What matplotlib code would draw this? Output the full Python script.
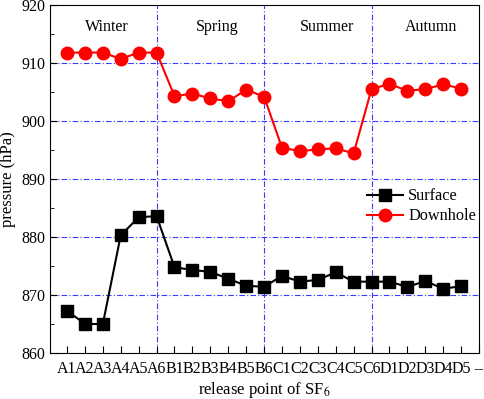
import numpy as np
import matplotlib
matplotlib.use("Agg")
import matplotlib.pyplot as plt
from matplotlib.ticker import MultipleLocator

plt.rcParams['font.family'] = ['Liberation Serif', 'DejaVu Serif']
plt.rcParams['mathtext.fontset'] = 'stix'

# release points (last tick is a placeholder "--")
points = ['A1', 'A2', 'A3', 'A4', 'A5', 'A6',
          'B1', 'B2', 'B3', 'B4', 'B5', 'B6',
          'C1', 'C2', 'C3', 'C4', 'C5', 'C6',
          'D1', 'D2', 'D3', 'D4', 'D5']
tick_labels = points + ['--']

surface = [867.3, 865.0, 865.0, 880.3, 883.4, 883.6,
           874.8, 874.3, 874.0, 872.8, 871.6, 871.4,
           873.3, 872.3, 872.6, 873.9, 872.3, 872.3,
           872.3, 871.4, 872.4, 871.1, 871.5]
downhole = [911.8, 911.8, 911.8, 910.7, 911.8, 911.8,
            904.3, 904.7, 903.9, 903.4, 905.4, 904.2,
            895.4, 894.8, 895.1, 895.3, 894.4, 905.5,
            906.4, 905.2, 905.5, 906.3, 905.6]

seasons = ['Winter', 'Spring', 'Summer', 'Autumn']
season_x = [2.2, 8.4, 14.5, 20.3]
season_bounds = [5, 11, 17]

fig = plt.figure(figsize=(4.84, 3.99), dpi=100)
ax = fig.add_axes([0.1033, 0.1153, 0.8864, 0.8722])

x = np.arange(len(points))
ax.plot(x, surface, '-s', color='black', markersize=8, linewidth=1.5, label='Surface')
ax.plot(x, downhole, '-o', color='red', markersize=9, linewidth=1.5, label='Downhole')

# grid and season separators
grid_col = '#3a3aff'
grid_ls = (0, (5, 2, 1, 2))
for yv in [870, 880, 890, 900, 910]:
    ax.axhline(yv, color=grid_col, linestyle=grid_ls, linewidth=0.8, zorder=0, snap=True)
for xv in season_bounds:
    ax.axvline(xv, color=grid_col, linestyle=grid_ls, linewidth=0.8, zorder=0, snap=True)

for name, sx in zip(seasons, season_x):
    ax.text(sx, 916.2, name, ha='center', va='center', fontsize=11.5)

ax.set_xlim(-0.95, 22.95)
ax.set_ylim(860, 920)
ax.set_xticks(np.arange(len(tick_labels)))
ax.set_xticklabels(tick_labels)
ax.yaxis.set_major_locator(MultipleLocator(10))
ax.yaxis.set_minor_locator(MultipleLocator(5))
ax.tick_params(axis='both', which='major', direction='in', length=5, labelsize=11.5)
ax.tick_params(axis='y', which='minor', direction='in', length=3)
ax.tick_params(axis='x', pad=6)

ax.set_xlabel('release point of SF$_6$', fontsize=12, labelpad=2)
ax.set_ylabel('pressure (hPa)', fontsize=12, labelpad=4)

ax.legend(loc='upper right', bbox_to_anchor=(1.027, 0.515), frameon=False,
          fontsize=11.7, handlelength=2.2, handletextpad=0.3, labelspacing=0.25)

fig.savefig('out.png', dpi=100)
